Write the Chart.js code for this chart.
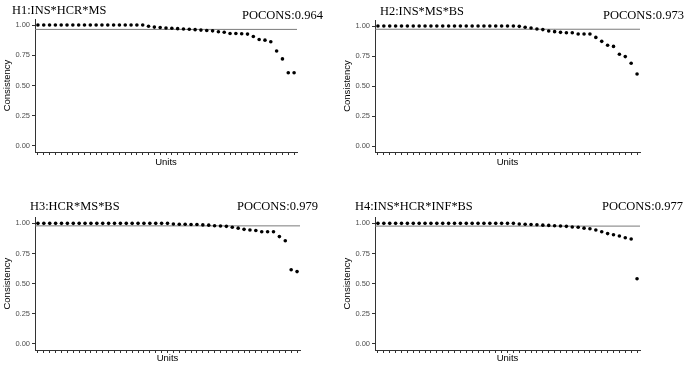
<!DOCTYPE html>
<html>
<head>
<meta charset="utf-8">
<script src="https://cdn.jsdelivr.net/npm/chart.js@4"></script>
<style>
  body { margin: 0; width: 685px; height: 366px; background: #fff; position: relative; overflow: hidden; }
  canvas { position: absolute; }
  .ttl { position: absolute; font-family: 'Liberation Serif', 'Times New Roman', serif; line-height: 1; white-space: nowrap; color: #000; }
</style>
</head>
<body>
<script>
const units = [1, 2, 3, 4, 5, 6, 7, 8, 9, 10, 11, 12, 13, 14, 15, 16, 17, 18, 19, 20, 21, 22, 23,
  24, 25, 26, 27, 28, 29, 30, 31, 32, 33, 34, 35, 36, 37, 38, 39, 40, 41, 42, 43, 44, 45];

const h1Values = [1, 1, 1, 1, 1, 1, 1, 1, 1, 1, 1, 1, 1, 1, 1, 1, 1, 1, 1,
  0.99, 0.983, 0.98, 0.975, 0.973, 0.97, 0.967, 0.965, 0.962, 0.958, 0.955, 0.952, 0.945, 0.94,
  0.93, 0.93, 0.928, 0.925, 0.905, 0.88, 0.875, 0.862, 0.785, 0.72, 0.605, 0.605];
const h2Values = [1, 1, 1, 1, 1, 1, 1, 1, 1, 1, 1, 1, 1, 1, 1, 1, 1, 1, 1, 1, 1, 1, 1, 1,
  0.997, 0.99, 0.983, 0.975, 0.97, 0.958, 0.953, 0.947, 0.944, 0.944, 0.933, 0.933, 0.933,
  0.905, 0.872, 0.84, 0.83, 0.765, 0.745, 0.69, 0.6];
const h3Values = [1, 1, 1, 1, 1, 1, 1, 1, 1, 1, 1, 1, 1, 1, 1, 1, 1, 1, 1, 1, 1, 1, 1,
  0.995, 0.993, 0.992, 0.99, 0.99, 0.987, 0.985, 0.98, 0.978, 0.975, 0.968, 0.96, 0.95, 0.945,
  0.94, 0.93, 0.93, 0.93, 0.89, 0.855, 0.615, 0.6];
const h4Values = [1, 1, 1, 1, 1, 1, 1, 1, 1, 1, 1, 1, 1, 1, 1, 1, 1, 1, 1, 1, 1, 1, 1, 1,
  0.995, 0.993, 0.99, 0.988, 0.985, 0.983, 0.98, 0.978, 0.975, 0.97, 0.967, 0.96, 0.955,
  0.945, 0.93, 0.915, 0.905, 0.895, 0.88, 0.87, 0.54];

const panelTitles = ['H1:INS*HCR*MS', 'H2:INS*MS*BS', 'H3:HCR*MS*BS', 'H4:INS*HCR*INF*BS'];
const poconsValues = [0.964, 0.973, 0.979, 0.977];
const yTicks = [0, 0.25, 0.5, 0.75, 1];

const panelValues = [h1Values, h2Values, h3Values, h4Values];

// where each panel sits on the page (px)
const panels = [
  { left: 0, top: 0, width: 340, height: 168, plotLeft: 35, plotRight: 297, plotTop: 19, plotBottom: 152,
    titleX: 12, titleBase: 14, poconsX: 242, poconsBase: 19 },
  { left: 340, top: 0, width: 345, height: 168, plotLeft: 375, plotRight: 640, plotTop: 20, plotBottom: 152,
    titleX: 380, titleBase: 15.7, poconsX: 603, poconsBase: 19 },
  { left: 0, top: 190, width: 340, height: 174, plotLeft: 35, plotRight: 300, plotTop: 217.3, plotBottom: 350,
    titleX: 30, titleBase: 210, poconsX: 237, poconsBase: 210.7 },
  { left: 340, top: 190, width: 345, height: 174, plotLeft: 375, plotRight: 640, plotTop: 217.3, plotBottom: 350,
    titleX: 355, titleBase: 210, poconsX: 602, poconsBase: 210.7 }
];

const sansFont = "'Liberation Sans', Arial, sans-serif";

// grey horizontal line at the POCONS value
const poconsLine = {
  id: 'pocons',
  beforeDatasetsDraw(chart, args, opts) {
    const ctx = chart.ctx;
    const y = chart.scales.y.getPixelForValue(opts.value);
    ctx.save();
    ctx.strokeStyle = '#7a7a7a';
    ctx.lineWidth = 1;
    ctx.beginPath();
    ctx.moveTo(chart.chartArea.left, y);
    ctx.lineTo(chart.chartArea.right, y);
    ctx.stroke();
    ctx.restore();
  }
};

function addText(text, x, base, size) {
  const div = document.createElement('div');
  div.className = 'ttl';
  div.textContent = text;
  div.style.fontSize = size + 'px';
  div.style.left = x + 'px';
  div.style.top = (base - size * 0.84) + 'px';
  document.body.appendChild(div);
}

function buildPanel(p, i) {
  const canvas = document.createElement('canvas');
  canvas.width = p.width;
  canvas.height = p.height;
  canvas.style.left = p.left + 'px';
  canvas.style.top = p.top + 'px';
  document.body.appendChild(canvas);

  addText(panelTitles[i], p.titleX, p.titleBase, 12.4);
  addText('POCONS:' + poconsValues[i].toFixed(3), p.poconsX, p.poconsBase, 12.5);

  new Chart(canvas, {
    type: 'line',
    data: {
      labels: units,
      datasets: [{
        data: panelValues[i],
        showLine: false,
        pointRadius: 1.8,
        pointBorderWidth: 0,
        pointBackgroundColor: '#000'
      }]
    },
    options: {
      responsive: false,
      animation: false,
      devicePixelRatio: 1,
      layout: {
        padding: { left: 0, top: p.plotTop - p.top, right: p.left + p.width - p.plotRight, bottom: 0 }
      },
      plugins: {
        legend: { display: false },
        tooltip: { enabled: false },
        pocons: { value: poconsValues[i] }
      },
      scales: {
        x: {
          offset: true,
          grid: { display: true, offset: false, drawOnChartArea: false, drawTicks: true, tickLength: 3, color: '#333' },
          border: { display: true, color: '#333', width: 1 },
          ticks: { autoSkip: false, maxRotation: 0, padding: 0, callback: () => '' },
          title: { display: true, text: 'Units', color: '#000', font: { family: sansFont, size: 9.5 }, padding: 0 },
          afterFit: s => { s.height = p.top + p.height - p.plotBottom; }
        },
        y: {
          min: -0.05,
          max: 1.05,
          afterBuildTicks: s => { s.ticks = yTicks.map(v => ({ value: v })); },
          grid: { display: true, drawOnChartArea: false, drawTicks: true, tickLength: 3, color: '#333' },
          border: { display: true, color: '#333', width: 1 },
          ticks: { color: '#4d4d4d', padding: 2, font: { family: sansFont, size: 7.5 }, callback: v => v.toFixed(2) },
          title: { display: true, text: 'Consistency', color: '#000', font: { family: sansFont, size: 9.5 }, padding: { top: 2, bottom: 0 } },
          afterFit: s => { s.width = p.plotLeft - p.left; }
        }
      }
    },
    plugins: [poconsLine]
  });
}

panels.forEach(buildPanel);
</script>
</body>
</html>
